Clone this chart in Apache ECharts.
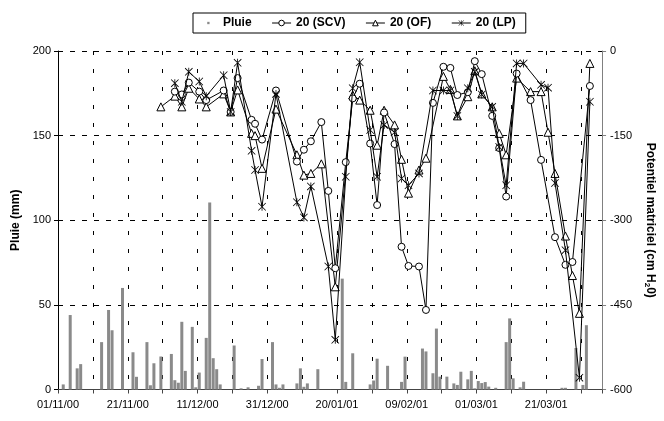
<!DOCTYPE html>
<html><head><meta charset="utf-8">
<script src="https://cdn.jsdelivr.net/npm/echarts@6/dist/echarts.min.js"></script>
<style>html,body{margin:0;padding:0;background:#fff}#c{width:664px;height:421px}</style>
</head><body><div id="c"></div>
<script>
const xTickLabels = ['01/11/00','21/11/00','11/12/00','31/12/00','20/01/01','09/02/01','01/03/01','21/03/01'];
const leftTicks = [0, 50, 100, 150, 200];
const rightTicks = [-600, -450, -300, -150, 0];

const rainDates = ['02/11/00','04/11/00','06/11/00','07/11/00','13/11/00','15/11/00','16/11/00','19/11/00','22/11/00','23/11/00','26/11/00','27/11/00','28/11/00','30/11/00','03/12/00','04/12/00','05/12/00','06/12/00','07/12/00','09/12/00','10/12/00','11/12/00','13/12/00','14/12/00','15/12/00','16/12/00','17/12/00','21/12/00','23/12/00','25/12/00','28/12/00','29/12/00','01/01/01','02/01/01','03/01/01','04/01/01','08/01/01','09/01/01','10/01/01','11/01/01','14/01/01','21/01/01','22/01/01','24/01/01','29/01/01','30/01/01','31/01/01','03/02/01','07/02/01','08/02/01','13/02/01','14/02/01','16/02/01','17/02/01','18/02/01','20/02/01','22/02/01','23/02/01','24/02/01','26/02/01','27/02/01','28/02/01','01/03/01','02/03/01','03/03/01','04/03/01','06/03/01','09/03/01','10/03/01','11/03/01','13/03/01','14/03/01','25/03/01','26/03/01','29/03/01','31/03/01','01/04/01'];
const rainValues = [3,44,12.5,15,28,47,35,60,22,7.5,28,2.5,15.5,19.5,21,5.5,4,40,11,37,1.3,10,30.5,110.5,18.5,12,3,26,0.7,1.3,2.2,18,28,3,1,3,3.6,12.5,1.6,3.6,12,65.5,4.5,21.4,3,5.3,18.2,14,4.5,19.4,24.2,22.5,9.6,36,7.6,7.6,3.6,2.7,10.5,6,11,0.7,5,3.8,4.4,1.7,1,28,42,6.6,1.3,4.6,1,1,24.5,2.7,38];

const scvDates = ['04/12/00','06/12/00','08/12/00','11/12/00','13/12/00','18/12/00','20/12/00','22/12/00','26/12/00','27/12/00','29/12/00','02/01/01','08/01/01','10/01/01','12/01/01','15/01/01','17/01/01','19/01/01','22/01/01','24/01/01','26/01/01','29/01/01','31/01/01','02/02/01','05/02/01','07/02/01','09/02/01','12/02/01','14/02/01','16/02/01','19/02/01','21/02/01','23/02/01','26/02/01','28/02/01','02/03/01','05/03/01','07/03/01','09/03/01','12/03/01','16/03/01','19/03/01','23/03/01','26/03/01','28/03/01','02/04/01'];
const scvValues = [-72,-77,-56,-72,-87,-70,-108,-48,-122,-129,-157,-70,-196,-175,-160,-126,-248,-385,-197,-84,-58,-164,-273,-109,-165,-347,-381,-382,-459,-92,-28,-30,-78,-73,-18,-41,-115,-172,-258,-40,-87,-193,-330,-379,-374,-62];

const ofDates = ['30/11/00','04/12/00','06/12/00','08/12/00','11/12/00','13/12/00','18/12/00','20/12/00','22/12/00','26/12/00','27/12/00','29/12/00','02/01/01','08/01/01','10/01/01','12/01/01','15/01/01','19/01/01','24/01/01','26/01/01','29/01/01','31/01/01','02/02/01','05/02/01','07/02/01','09/02/01','12/02/01','14/02/01','19/02/01','21/02/01','23/02/01','26/02/01','28/02/01','02/03/01','05/03/01','07/03/01','09/03/01','12/03/01','16/03/01','19/03/01','21/03/01','23/03/01','26/03/01','28/03/01','30/03/01','02/04/01'];
const ofValues = [-99,-80,-99,-66,-85,-99,-76,-108,-69,-146,-150,-208,-103,-184,-220,-217,-200,-418,-78,-87,-105,-167,-105,-131,-192,-252,-211,-190,-45,-68,-115,-81,-35,-76,-99,-146,-184,-48,-72,-72,-144,-217,-328,-398,-465,-22];

const lpDates = ['04/12/00','06/12/00','08/12/00','11/12/00','13/12/00','18/12/00','20/12/00','22/12/00','26/12/00','27/12/00','29/12/00','02/01/01','08/01/01','10/01/01','12/01/01','17/01/01','19/01/01','22/01/01','24/01/01','26/01/01','29/01/01','31/01/01','02/02/01','05/02/01','07/02/01','09/02/01','12/02/01','16/02/01','19/02/01','21/02/01','23/02/01','26/02/01','28/02/01','02/03/01','05/03/01','07/03/01','09/03/01','12/03/01','14/03/01','19/03/01','21/03/01','23/03/01','26/03/01','30/03/01','02/04/01'];
const lpValues = [-57,-90,-37,-54,-80,-43,-108,-21,-177,-211,-276,-76,-268,-295,-240,-382,-512,-223,-66,-20,-140,-223,-131,-144,-226,-238,-217,-70,-70,-70,-115,-66,-37,-77,-99,-170,-238,-22,-22,-60,-65,-234,-353,-579,-90];

const ORIGIN = Date.UTC(2000, 10, 1);
function dayOf(s) { const p = s.split('/').map(Number); return (Date.UTC(2000 + p[2], p[1] - 1, p[0]) - ORIGIN) / 86400000; }
// Excel date axis: each day occupies a slot; marks sit at the slot centre
function pairs(dates, vals) { return dates.map((d, i) => [dayOf(d) + 0.5, vals[i]]); }

const ASTERISK = 'path://M4.5,0h1v10h-1z M0,0.7L0.7,0L10,9.3L9.3,10z M10,0.7L9.3,0L0,9.3L0.7,10z';
const SMALLSQ = 'path://M0,0L0,0 M8,3h3v3h-3z M19,9L19,9';

const font = 'Liberation Sans, Arial, sans-serif';
const chart = echarts.init(document.getElementById('c'), null, { renderer: 'canvas' });
const markerStyle = { color: '#fff', borderColor: '#000', borderWidth: 1 };
chart.setOption({
  animation: false,
  backgroundColor: '#fff',
  textStyle: { fontFamily: font },
  grid: { left: 58, right: 56, top: 51, bottom: 31.5, containLabel: false },
  legend: {
    top: 13, left: 193,
    borderColor: '#000', borderWidth: 1,
    padding: [4, 10, 4, 8],
    itemGap: 20, itemWidth: 19, itemHeight: 7,
    lineStyle: { width: 1 },
    itemStyle: { borderWidth: 1 },
    textStyle: { fontFamily: font, fontSize: 12, fontWeight: 'bold', color: '#000' },
    data: [
      { name: 'Pluie', icon: SMALLSQ },
      { name: '20 (SCV)' }, { name: '20 (OF)' }, { name: '20 (LP)' }
    ]
  },
  xAxis: {
    type: 'value', min: 0, max: 156, interval: 10,
    axisLine: { show: true, lineStyle: { color: '#444', width: 1 } },
    axisTick: { show: true, length: 4, lineStyle: { color: '#444' } },
    axisLabel: {
      color: '#000', fontSize: 11, margin: 10, fontFamily: font,
      formatter: v => (v % 20 === 0 && v / 20 < xTickLabels.length) ? xTickLabels[v / 20] : ''
    },
    splitLine: { show: true, lineStyle: { color: '#000', type: [4, 14], width: 1 } }
  },
  yAxis: [
    {
      type: 'value', min: 0, max: 200, interval: 50, position: 'left',
      name: 'Pluie (mm)', nameLocation: 'middle', nameGap: 34, nameRotate: 90,
      nameTextStyle: { fontSize: 12, fontWeight: 'bold', color: '#000', fontFamily: font },
      axisLine: { show: true, lineStyle: { color: '#000', width: 1 } },
      axisTick: { show: true, inside: false, length: 4, lineStyle: { color: '#000' } },
      axisLabel: { color: '#000', fontSize: 11, margin: 7, fontFamily: font,
        formatter: v => leftTicks.includes(v) ? String(v) : '' },
      splitLine: { show: true, lineStyle: { color: '#000', type: [5, 7], width: 1 } }
    },
    {
      type: 'value', min: -600, max: 0, interval: 150, position: 'right',
      name: '{a|Potentiel matriciel (cm H}{s|2}{a|0)}', nameLocation: 'middle', nameGap: 38, nameRotate: -90,
      nameTextStyle: {
        fontFamily: font, color: '#000',
        rich: {
          a: { fontSize: 12, fontWeight: 'bold', fontFamily: font, color: '#000' },
          s: { fontSize: 8, fontWeight: 'bold', fontFamily: font, color: '#000', padding: [6, 0, 0, 0] }
        }
      },
      axisLine: { show: true, lineStyle: { color: '#808080', width: 1 } },
      axisTick: { show: true, length: 4, lineStyle: { color: '#808080' } },
      axisLabel: { color: '#000', fontSize: 11, margin: 8, fontFamily: font,
        formatter: v => rightTicks.includes(v) ? String(v) : '' },
      splitLine: { show: false }
    }
  ],
  series: [
    {
      name: 'Pluie', type: 'bar', xAxisIndex: 0, yAxisIndex: 0,
      data: pairs(rainDates, rainValues), barWidth: 3, z: 1,
      itemStyle: { color: '#8a8a8a' }
    },
    {
      name: '20 (SCV)', type: 'line', yAxisIndex: 1, data: pairs(scvDates, scvValues),
      symbol: 'circle', symbolSize: 7, z: 4,
      lineStyle: { color: '#000', width: 1 }, itemStyle: markerStyle
    },
    {
      name: '20 (OF)', type: 'line', yAxisIndex: 1, data: pairs(ofDates, ofValues),
      symbol: 'triangle', symbolSize: 8, z: 3,
      lineStyle: { color: '#000', width: 1 }, itemStyle: markerStyle
    },
    {
      name: '20 (LP)', type: 'line', yAxisIndex: 1, data: pairs(lpDates, lpValues),
      symbol: ASTERISK, symbolSize: 8, z: 5,
      lineStyle: { color: '#000', width: 1 }, itemStyle: { color: '#000', borderWidth: 0 }
    }
  ]
});
</script>
</body></html>
